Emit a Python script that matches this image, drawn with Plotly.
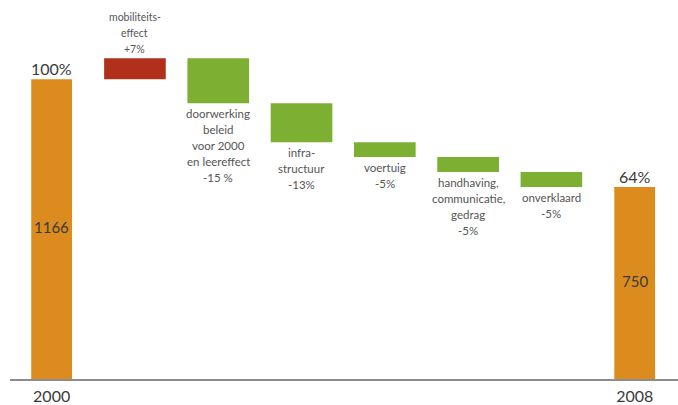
import plotly.graph_objects as go

# ---- data ----
categories = ["2000", "mobiliteitseffect", "doorwerking beleid", "infrastructuur",
              "voertuig", "handhaving", "onverklaard", "2008"]
measures = ["absolute", "relative", "relative", "relative", "relative", "relative", "relative", "total"]
pct_values = [100, 7, -15, -13, -5, -5, -5, 0]
abs_values = [1166, None, None, None, None, None, None, 750]
pct_labels = ["100%", None, None, None, None, None, None, "64%"]
step_labels = [
    None,
    ["mobiliteits-", "effect", "+7%"],
    ["doorwerking", "beleid", "voor 2000", "en leereffect", "-15 %"],
    ["infra-", "structuur", "-13%"],
    ["voertuig", "-5%"],
    ["handhaving,", "communicatie,", "gedrag", "-5%"],
    ["onverklaard", "-5%"],
    None,
]
tick_labels = ["2000", "", "", "", "", "", "", "2008"]

# ---- style ----
ORANGE = "#DC8C1E"
GREEN = "#7DAF32"
RED = "#B0301C"
FONT = "Lato"
widths = [0.49 if m != "relative" else 0.74 for m in measures]

fig = go.Figure(go.Waterfall(
    x=categories,
    y=pct_values,
    measure=measures,
    width=widths,
    connector=dict(visible=False),
    increasing=dict(marker=dict(color=RED, line=dict(width=0))),
    decreasing=dict(marker=dict(color=GREEN, line=dict(width=0))),
    totals=dict(marker=dict(color=ORANGE, line=dict(width=0))),
    textinfo="none",
    hoverinfo="skip",
))

annotations = []
# cumulative levels
level = 0
levels_after = []
for m, v in zip(measures, pct_values):
    if m == "absolute":
        level = v
    elif m == "relative":
        level += v
    levels_after.append(level)

for i, cat in enumerate(categories):
    top = levels_after[i]
    if pct_labels[i]:
        annotations.append(dict(x=i, y=top, text=pct_labels[i], showarrow=False,
                                yanchor="middle", yshift=11,
                                font=dict(family=FONT, size=16, color="#3a3a3a")))
    if abs_values[i] is not None:
        annotations.append(dict(x=i, y=top / 2, text=str(abs_values[i]), showarrow=False,
                                yanchor="middle", yshift=2,
                                font=dict(family=FONT, size=15, color="#3a3a3a")))
    lines = step_labels[i]
    if lines:
        if pct_values[i] > 0:
            n = len(lines)
            for j, ln in enumerate(lines):
                annotations.append(dict(x=i, y=levels_after[i], text=ln, showarrow=False,
                                        yanchor="middle", yshift=9 + 16 * (n - 1 - j),
                                        font=dict(family=FONT, size=10.5, color="#555555")))
        else:
            for j, ln in enumerate(lines):
                annotations.append(dict(x=i, y=levels_after[i], text=ln, showarrow=False,
                                        yanchor="middle", yshift=-(10 + 16 * j),
                                        font=dict(family=FONT, size=11.5, color="#555555")))

fig.update_layout(
    width=678, height=405,
    margin=dict(l=10, r=0, t=0, b=17),
    paper_bgcolor="white", plot_bgcolor="white",
    showlegend=False,
    annotations=annotations,
    xaxis=dict(type="category", range=[-0.5, 7.52], showline=True, linecolor="#8c8c8c",
               linewidth=1.5, showgrid=False, zeroline=False, ticks="",
               tickvals=categories, ticktext=tick_labels, ticklabelstandoff=2,
               tickfont=dict(family=FONT, size=16, color="#3a3a3a")),
    yaxis=dict(range=[0, 126.4], visible=False, showgrid=False, zeroline=False),
)

fig.write_html("out.html")
